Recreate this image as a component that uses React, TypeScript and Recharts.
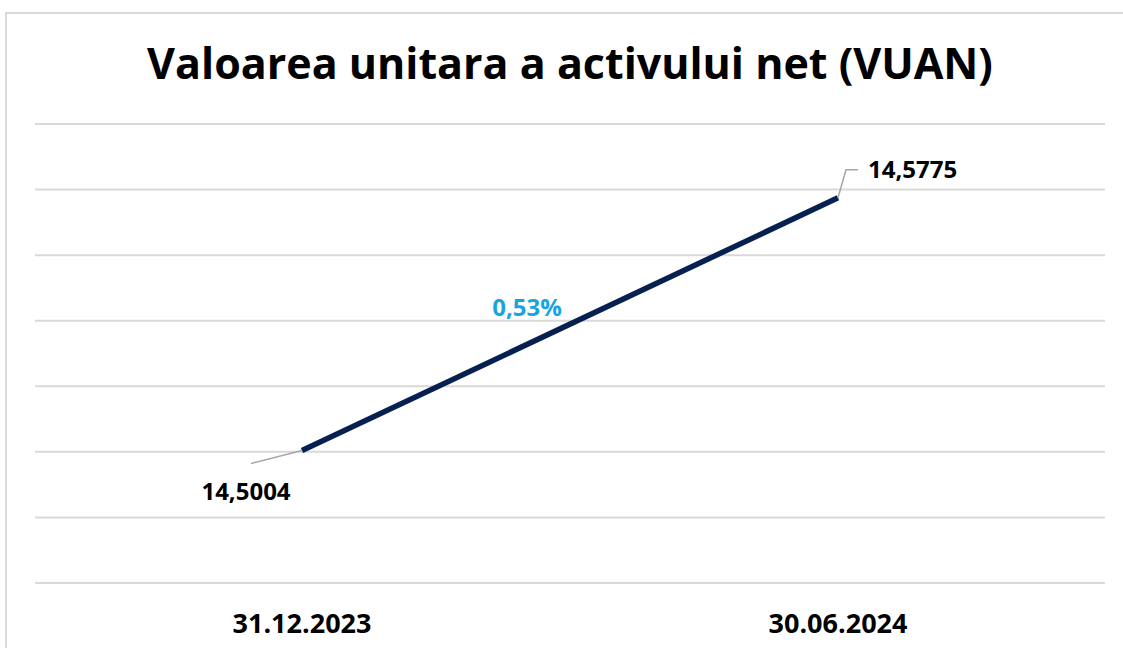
import React from "react";
import { CartesianGrid, LabelList, Line, LineChart, XAxis, YAxis } from "recharts";

const dates = ["31.12.2023", "30.06.2024"];
const vuan = [14.5004, 14.5775];
const yTicks = [14.46, 14.48, 14.5, 14.52, 14.54, 14.56, 14.58, 14.6];

const data = dates.map((d, i) => ({ date: d, vuan: vuan[i] }));

const FONT = "'Open Sans', 'Noto Sans', sans-serif";
const fmt = (v: number, digits: number) => v.toFixed(digits).replace(".", ",");

const change = (vuan[1] / vuan[0] - 1) * 100;

// remembers where the previous point landed so the % label sits between the two
const seen: Record<number, { x: number; y: number }> = {};

function PointLabel(props: any) {
  const { x, y, value, index } = props;
  seen[index] = { x, y };
  if (index === 0) {
    return (
      <g>
        <polyline points={`${x},${y} ${x - 51},${y + 13}`} fill="none" stroke="#a6a6a6" strokeWidth={1.5} />
        <text x={x - 56} y={y + 49} textAnchor="middle" fontFamily={FONT} fontWeight={700} fontSize={24} fill="#000">
          {fmt(value, 4)}
        </text>
      </g>
    );
  }
  const prev = seen[index - 1];
  return (
    <g>
      <polyline
        points={`${x},${y} ${x + 8},${y - 28} ${x + 20},${y - 28}`}
        fill="none"
        stroke="#a6a6a6"
        strokeWidth={1.5}
      />
      <text x={x + 30} y={y - 20} fontFamily={FONT} fontWeight={700} fontSize={24} fill="#000">
        {fmt(value, 4)}
      </text>
      {prev && (
        <text
          x={(prev.x + x) / 2 - 43}
          y={(prev.y + y) / 2 - 8}
          textAnchor="middle"
          fontFamily={FONT}
          fontWeight={700}
          fontSize={24}
          fill="#1aa3e2"
        >
          {fmt(change, 2)}%
        </text>
      )}
    </g>
  );
}

export default function App() {
  return (
    <div style={{ position: "fixed", left: 0, top: 0, width: 1123, height: 648, background: "#fff", overflow: "hidden" }}>
      <div
        style={{
          position: "absolute",
          left: 5,
          top: 12,
          width: 1140,
          height: 660,
          border: "2px solid #d9d9d9",
          boxSizing: "border-box",
        }}
      />
      <div
        style={{
          position: "absolute",
          left: 5,
          width: 1130,
          top: 37,
          textAlign: "center",
          fontFamily: FONT,
          fontWeight: 700,
          fontSize: 43,
          color: "#000",
          lineHeight: "52px",
        }}
      >
        Valoarea unitara a activului net (VUAN)
      </div>
      <div style={{ position: "absolute", left: 0, top: 0 }}>
        <LineChart width={1123} height={648} data={data} margin={{ left: 35, right: 18, top: 124, bottom: 0 }}>
          <CartesianGrid vertical={false} stroke="#d9d9d9" strokeWidth={2} />
          <XAxis
            dataKey="date"
            height={65}
            axisLine={false}
            tickLine={false}
            tickSize={0}
            tickMargin={31}
            padding={{ left: 267, right: 267 }}
            tick={{ fill: "#000", fontSize: 27, fontWeight: 700, fontFamily: FONT }}
          />
          <YAxis hide domain={[14.46, 14.6]} ticks={yTicks} type="number" />
          <Line
            dataKey="vuan"
            type="linear"
            stroke="#06204f"
            strokeWidth={5.5}
            dot={false}
            activeDot={false}
            isAnimationActive={false}
          >
            <LabelList dataKey="vuan" content={PointLabel} />
          </Line>
        </LineChart>
      </div>
    </div>
  );
}
